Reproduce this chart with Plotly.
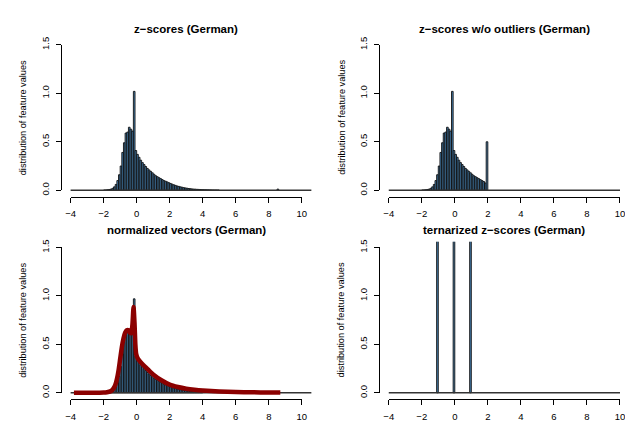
import plotly.graph_objects as go

# ---------------- data ----------------
bin_width = 0.1
hist_range = [-4.0, 10.6]          # range covered by histogram breaks (baseline)

# z-scores: bar heights for bins starting at -2.0 (width 0.1)
z_start = -2.0
z_heights = [
    0.002, 0.003, 0.005, 0.008, 0.012, 0.02, 0.035, 0.06, 0.10, 0.16,     # -2.0 .. -1.1
    0.25, 0.39, 0.49, 0.59, 0.60, 0.65, 0.63, 0.61, 1.02, 0.41,           # -1.0 .. -0.1
    0.37, 0.34, 0.31, 0.285, 0.265, 0.245, 0.225, 0.21, 0.195, 0.18,      # 0.0 .. 0.9
    0.165, 0.15, 0.14, 0.13, 0.12, 0.11, 0.10, 0.093, 0.086, 0.078,       # 1.0 .. 1.9
    0.07, 0.063, 0.056, 0.05, 0.044, 0.04, 0.035, 0.031, 0.027, 0.024,    # 2.0 .. 2.9
    0.021, 0.018, 0.016, 0.014, 0.012, 0.011, 0.0095, 0.0085, 0.0075, 0.0065,  # 3.0 .. 3.9
    0.006, 0.005, 0.0045, 0.004, 0.0035, 0.003, 0.0025, 0.0022, 0.002, 0.0018, # 4.0 .. 4.9
]
z_outlier_x = [8.55]
z_outlier_h = [0.012]

# z-scores without outliers (clipped at 2)
zc_start = -2.0
zc_heights = [
    0.002, 0.003, 0.005, 0.008, 0.012, 0.02, 0.035, 0.06, 0.10, 0.16,
    0.25, 0.39, 0.49, 0.59, 0.60, 0.65, 0.63, 0.61, 1.02, 0.41,
    0.37, 0.34, 0.31, 0.285, 0.265, 0.245, 0.225, 0.21, 0.195, 0.18,
    0.165, 0.15, 0.14, 0.13, 0.12, 0.11, 0.10, 0.09, 0.075, 0.50,
]

# normalized vectors
nv_start = -2.0
nv_heights = [
    0.002, 0.003, 0.005, 0.008, 0.012, 0.02, 0.035, 0.06, 0.10, 0.17,
    0.27, 0.40, 0.52, 0.60, 0.62, 0.64, 0.62, 0.60, 0.97, 0.38,
    0.35, 0.32, 0.29, 0.27, 0.25, 0.23, 0.21, 0.195, 0.18, 0.165,
    0.15, 0.14, 0.13, 0.12, 0.11, 0.10, 0.09, 0.083, 0.076, 0.07,
    0.063, 0.057, 0.051, 0.046, 0.041, 0.037, 0.033, 0.03, 0.027, 0.024,
    0.021, 0.018, 0.016, 0.014, 0.012, 0.011, 0.0095, 0.0085, 0.0075, 0.0065,
]
# density curve of normalized vectors
dens_x = [-3.8, -3.0, -2.4, -2.0, -1.8, -1.6, -1.45, -1.3, -1.2, -1.1, -1.0, -0.9,
          -0.8, -0.7, -0.6, -0.5, -0.42, -0.33, -0.26, -0.19, -0.13, -0.08, -0.03,
          0.05, 0.15, 0.3, 0.5, 0.75, 1.0, 1.5, 2.0, 2.5, 3.0, 3.5, 4.0, 5.0, 6.0,
          7.0, 8.0, 8.7]
dens_y = [0.0, 0.0, 0.001, 0.003, 0.007, 0.015, 0.035, 0.08, 0.14, 0.23, 0.35, 0.47,
          0.56, 0.62, 0.645, 0.645, 0.625, 0.615, 0.70, 0.885, 0.72, 0.50, 0.40,
          0.36, 0.335, 0.305, 0.27, 0.23, 0.19, 0.13, 0.085, 0.06, 0.043, 0.032,
          0.024, 0.014, 0.009, 0.006, 0.004, 0.003]

# ternarized z-scores (bins (-1.1,-1], (-0.1,0], (0.9,1])
tern_left = [-1.1, -0.1, 0.9]
tern_heights = [2.2, 5.6, 2.2]

x_ticks = [-4, -2, 0, 2, 4, 6, 8, 10]
x_ticktext = ["\u22124", "\u22122", "0", "2", "4", "6", "8", "10"]
y_ticks = [0.0, 0.5, 1.0, 1.5]
y_ticktext = ["0.0", "0.5", "1.0", "1.5"]

titles = ["z\u2212scores (German)", "z\u2212scores w/o outliers (German)",
          "normalized vectors (German)", "ternarized z\u2212scores (German)"]
ylabel = "distribution of feature values"

# ---------------- layout geometry (pixels) ----------------
W, H = 625, 425
sx, sy = 16.78, 100.0
col_xm4 = [66.7, 390.0]        # pixel of x = -4
col_left = [57.0, 380.0]       # plot region left (y-axis line)
col_right = [311.5, 625.0]
col_title_x = [184.0, 507.5]
row_y0 = [188.0, 397.0]        # pixel of y = 0
title_y = [21.5, 229.5]
ylab_x = [18.0, 341.7]

FONT = "Liberation Sans, Arial, sans-serif"
BAR_FILL = "#4682B4"
BAR_LINE = "#111111"


def fx(p):
    return p / W


def fy(p):
    return 1 - p / H


def centers(start, heights):
    return [start + bin_width * (i + 0.5) for i in range(len(heights))]


fig = go.Figure()
layout = dict(width=W, height=H, margin=dict(l=0, r=0, t=0, b=0),
              paper_bgcolor="white", plot_bgcolor="rgba(0,0,0,0)",
              showlegend=False, font=dict(family=FONT, color="black"),
              annotations=[])

panel_hists = [
    [(centers(z_start, z_heights), z_heights, [bin_width] * len(z_heights)),
     (list(z_outlier_x), z_outlier_h, [bin_width] * len(z_outlier_h))],
    [(centers(zc_start, zc_heights), zc_heights, [bin_width] * len(zc_heights))],
    [(centers(nv_start, nv_heights), nv_heights, [bin_width] * len(nv_heights))],
    [([l + bin_width / 2 for l in tern_left], tern_heights, [bin_width] * len(tern_left))],
]

for p in range(4):
    row, col = divmod(p, 2)
    dx = "x%d" % (p + 1)
    dy = "y%d" % (p + 1)
    tx = "x%d" % (p + 5)
    ty = "y%d" % (p + 5)
    xm4 = col_xm4[col]
    y0 = row_y0[row]
    left, right = col_left[col], col_right[col]
    bottom, top = y0 + 6.0, y0 - 156.0
    # data axes (invisible)
    layout["xaxis%d" % (p + 1)] = dict(
        domain=[fx(left), fx(right)],
        range=[-4 + (left - xm4) / sx, -4 + (right - xm4) / sx],
        visible=False, anchor=dy, fixedrange=True)
    layout["yaxis%d" % (p + 1)] = dict(
        domain=[fy(bottom), fy(top)],
        range=[(y0 - bottom) / sy, (y0 - top) / sy],
        visible=False, anchor=dx, fixedrange=True)
    # R-style axes
    layout["xaxis%d" % (p + 5)] = dict(
        domain=[fx(xm4), min(1.0, fx(xm4 + (x_ticks[-1] - x_ticks[0]) * sx))],
        range=[x_ticks[0], x_ticks[-1]], anchor="free", position=fy(bottom + 0.5),
        showline=True, linecolor="black", linewidth=1, showgrid=False, zeroline=False,
        ticks="outside", ticklen=5, tickwidth=1, tickcolor="black",
        tickvals=x_ticks, ticktext=x_ticktext, tickfont=dict(size=9.5, family=FONT),
        ticklabelstandoff=3, ticklabeloverflow="allow", fixedrange=True)
    layout["yaxis%d" % (p + 5)] = dict(
        domain=[fy(y0), fy(y0 - (y_ticks[-1] - y_ticks[0]) * sy)],
        range=[y_ticks[0], y_ticks[-1]], anchor="free", position=fx(left),
        showline=True, linecolor="black", linewidth=1, showgrid=False, zeroline=False,
        ticks="outside", ticklen=5, tickwidth=1, tickcolor="black",
        tickvals=y_ticks, ticktext=y_ticktext, tickangle=-90,
        tickfont=dict(size=9.5, family=FONT), ticklabelstandoff=3,
        ticklabeloverflow="allow", fixedrange=True)
    fig.add_trace(go.Scatter(x=[x_ticks[0]], y=[y_ticks[0]], xaxis=tx, yaxis=ty,
                             mode="markers", marker=dict(opacity=0), hoverinfo="skip"))
    # baseline of histogram breaks
    fig.add_trace(go.Scatter(x=hist_range, y=[0, 0], xaxis=dx, yaxis=dy, mode="lines",
                             line=dict(color="#333333", width=1.5), hoverinfo="skip"))
    for xs, hs, ws in panel_hists[p]:
        fig.add_trace(go.Bar(x=xs, y=hs, width=ws, xaxis=dx, yaxis=dy,
                             marker=dict(color=BAR_FILL, line=dict(color=BAR_LINE, width=0.9))))
    if p == 2:
        fig.add_trace(go.Scatter(x=dens_x, y=dens_y, xaxis=dx, yaxis=dy, mode="lines",
                                 line=dict(color="#8B0000", width=4.5, shape="spline",
                                           smoothing=0.6),
                                 hoverinfo="skip"))
    layout["annotations"].append(dict(
        text="<b>%s</b>" % titles[p], x=fx(col_title_x[col]),
        y=fy(title_y[row]), xref="paper", yref="paper", showarrow=False,
        xanchor="center", yanchor="middle", font=dict(size=11.5, family=FONT)))
    layout["annotations"].append(dict(
        text=ylabel, x=fx(ylab_x[col]), y=fy((bottom + top) / 2), xref="paper", yref="paper",
        showarrow=False, textangle=-90, xanchor="center", yanchor="middle",
        font=dict(size=9.2, family=FONT)))

layout["bargap"] = 0
fig.update_layout(**layout)
fig.write_html("out.html", config={"displayModeBar": False, "staticPlot": True},
               post_script="document.body.style.margin='0';"
                           "document.body.style.overflow='hidden';"
                           "document.documentElement.style.overflow='hidden';")
